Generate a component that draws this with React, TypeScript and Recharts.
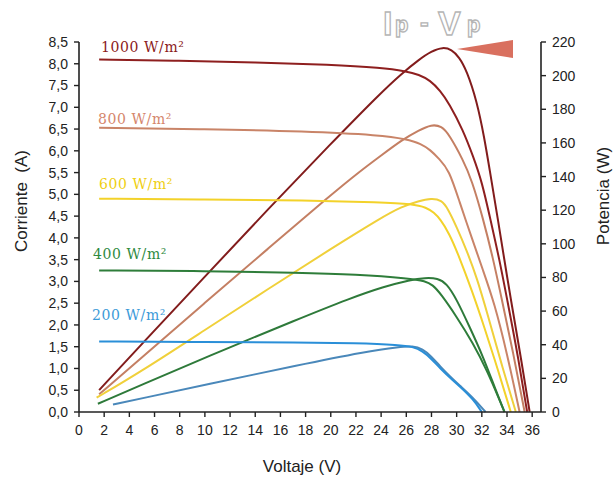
import React from "react";
import { LineChart, Line, XAxis, YAxis } from "recharts";

// ticks
const voltTicks = [0, 2, 4, 6, 8, 10, 12, 14, 16, 18, 20, 22, 24, 26, 28, 30, 32, 34, 36];
const currentTicks = [0, 0.5, 1, 1.5, 2, 2.5, 3, 3.5, 4, 4.5, 5, 5.5, 6, 6.5, 7, 7.5, 8, 8.5];
const powerTicks = [0, 20, 40, 60, 80, 100, 120, 140, 160, 180, 200, 220];

const irradianceLabels = ["1000 W/m²", "800 W/m²", "600 W/m²", "400 W/m²", "200 W/m²"];

// I-V curves (V, A)
const v1000I = [1.6, 8, 14, 20, 24, 26, 27, 27.9, 28.7, 29.4, 30.5, 31.3, 32, 32.7, 33.4, 34, 34.8, 35.6];
const a1000 = [8.1, 8.07, 8.03, 7.98, 7.91, 7.83, 7.75, 7.62, 7.38, 7.09, 6.48, 5.88, 5.3, 4.4, 3.5, 2.6, 1.4, 0];
const v800I = [1.6, 10, 18, 24, 26, 27.2, 27.9, 28.6, 29.4, 30.2, 31.2, 32.1, 33, 34, 35];
const a800 = [6.53, 6.5, 6.45, 6.36, 6.27, 6.16, 6.02, 5.82, 5.56, 4.85, 4.0, 3.25, 2.5, 1.35, 0];
const v600I = [1.6, 10, 18, 24, 26.5, 27.6, 28.2, 28.7, 29.4, 30.2, 31.2, 32.2, 33.3, 34.3];
const a600 = [4.9, 4.88, 4.86, 4.82, 4.78, 4.7, 4.58, 4.43, 4.11, 3.57, 2.8, 1.95, 0.95, 0];
const v400I = [1.6, 10, 17.5, 22, 26.3, 27.5, 28.1, 28.7, 30, 31.3, 32.4, 33.4, 33.8];
const a400 = [3.25, 3.24, 3.2, 3.16, 3.07, 3.01, 2.92, 2.73, 2.19, 1.58, 0.96, 0.28, 0];
const v200I = [1.6, 10, 17.5, 22, 25.5, 26.5, 27.3, 28, 28.7, 29.5, 30.2, 31.3, 32];
const a200 = [1.62, 1.61, 1.6, 1.58, 1.54, 1.5, 1.4, 1.22, 1.0, 0.78, 0.6, 0.3, 0];

// P-V curves (V, W)
const v1000P = [1.6, 5, 10, 15, 20, 24, 25.6, 27, 28, 28.9, 29.6, 30.2, 30.8, 31.6, 32.2, 32.6, 33.2, 33.8, 34.3, 35, 35.8];
const w1000 = [13, 40.5, 80.5, 120.5, 159.5, 190, 201, 209.5, 214.5, 217, 215.5, 211, 203, 185, 163, 145, 118, 90, 67, 37, 0];
const v800P = [1.6, 5, 10, 15, 20, 22.3, 24, 25.7, 27, 28, 28.8, 29.4, 30.5, 31.2, 32.1, 32.9, 33.5, 34.5, 35.4];
const w800 = [10.5, 32.5, 65, 97, 129, 143, 152.5, 162, 167.5, 171, 170, 165, 150, 138, 115, 91, 70, 35, 0];
const v600P = [1.4, 5, 10, 15, 20, 24, 25.6, 27, 28, 28.8, 29.3, 30, 30.8, 31.6, 32.5, 33.5, 34.7];
const w600 = [8.5, 24.4, 48.8, 73, 97, 115.5, 122, 125.5, 127, 126, 121, 110, 96, 80, 57, 30, 0];
const v400P = [1.5, 5, 10, 17.5, 21.5, 24.2, 26.3, 27.5, 28.5, 29.2, 30, 31, 32.1, 33.1, 33.8];
const w400 = [4.9, 16.2, 32.4, 55.5, 67.5, 74.5, 78.5, 79.8, 79.5, 76.5, 67, 51, 33, 13, 0];
const v200P = [2.7, 5, 10, 17.5, 22.8, 25.5, 26.5, 27.3, 28, 28.7, 29.5, 30.2, 31.3, 32.3];
const w200 = [4.5, 8.1, 16.1, 28, 35.9, 38.8, 39.3, 37.5, 33, 27, 21, 16, 8.5, 0];

const lineColors = ["#8E1F1F", "#C98468", "#F3D22A", "#2E7D3A", "#2A8FD8"];
const pvColors = ["#821C1C", "#C47F63", "#F0D03A", "#2E7A3A", "#4A88BA"];
const labelColors = ["#8B1A1A", "#D5866C", "#EFCF10", "#2F8A3F", "#3B9AD8"];

const toRows = (vs: number[], ys: number[]) => vs.map((v, k) => ({ v, y: ys[k] }));

const ivSeries = [
  toRows(v1000I, a1000),
  toRows(v800I, a800),
  toRows(v600I, a600),
  toRows(v400I, a400),
  toRows(v200I, a200),
];
const pvSeries = [
  toRows(v1000P, w1000),
  toRows(v800P, w800),
  toRows(v600P, w600),
  toRows(v400P, w400),
  toRows(v200P, w200),
];

const FONT = "'Liberation Sans', Arial, sans-serif";
const tickStyle = { fill: "#222", fontSize: 14, fontFamily: FONT };
const axisStyle = { stroke: "#222", strokeWidth: 1.6 };

// label anchor positions (px)
const labelPos = [
  { x: 101, y: 52 },
  { x: 98, y: 124 },
  { x: 99, y: 189 },
  { x: 93, y: 259 },
  { x: 92, y: 320 },
];

const App: React.FC = () => {
  return (
    <div style={{ position: "absolute", left: 0, top: 0, width: 615, height: 483, background: "#fff" }}>
      <LineChart width={615} height={483} margin={{ top: 42, right: 0, bottom: 0, left: 0 }}>
        <XAxis
          dataKey="v"
          type="number"
          domain={[0, 36.7]}
          ticks={voltTicks}
          interval={0}
          height={71}
          tick={tickStyle}
          tickSize={5}
          tickMargin={8}
          axisLine={axisStyle}
          tickLine={{ stroke: "#222", strokeWidth: 1.4 }}
          allowDataOverflow
        />
        <YAxis
          yAxisId="a"
          orientation="left"
          width={79}
          domain={[0, 8.5]}
          ticks={currentTicks}
          interval={0}
          tickFormatter={(v: number) => v.toFixed(1).replace(".", ",")}
          tick={tickStyle}
          tickSize={5}
          tickMargin={6}
          axisLine={axisStyle}
          tickLine={{ stroke: "#222", strokeWidth: 1.4 }}
        />
        <YAxis
          yAxisId="p"
          orientation="right"
          width={74}
          domain={[0, 220]}
          ticks={powerTicks}
          interval={0}
          tick={tickStyle}
          tickSize={5}
          tickMargin={6}
          axisLine={axisStyle}
          tickLine={{ stroke: "#222", strokeWidth: 1.4 }}
        />
        {pvSeries.map((d, k) => (
          <Line
            key={`pv-${k}`}
            yAxisId="p"
            data={d}
            dataKey="y"
            type="basis"
            stroke={pvColors[k]}
            strokeWidth={2}
            dot={false}
            activeDot={false}
            isAnimationActive={false}
          />
        ))}
        {ivSeries.map((d, k) => (
          <Line
            key={`iv-${k}`}
            yAxisId="a"
            data={d}
            dataKey="y"
            type="basis"
            stroke={lineColors[k]}
            strokeWidth={2}
            dot={false}
            activeDot={false}
            isAnimationActive={false}
          />
        ))}
      </LineChart>

      <svg width={615} height={483} style={{ position: "absolute", left: 0, top: 0, pointerEvents: "none" }}>
        {irradianceLabels.map((t, k) => (
          <text
            key={t}
            x={labelPos[k].x}
            y={labelPos[k].y}
            fill={labelColors[k]}
            fontSize={14}
            letterSpacing={0.6}
            fontFamily="'DejaVu Serif', serif"
          >
            {t}
          </text>
        ))}

        <text
          transform="translate(27 201) rotate(-90)"
          textAnchor="middle"
          fontSize={17}
          fontFamily={FONT}
          fill="#222"
          xmlSpace="preserve"
        >
          Corriente  (A)
        </text>
        <text
          transform="translate(609 196) rotate(-90)"
          textAnchor="middle"
          fontSize={17}
          fontFamily={FONT}
          fill="#222"
        >
          Potencia (W)
        </text>
        <text x={302} y={472} textAnchor="middle" fontSize={17} fontFamily={FONT} fill="#222">
          Voltaje (V)
        </text>

        <g fill="#fff" stroke="#b5b5b5" strokeWidth={1.3} fontFamily={FONT} fontWeight="bold">
          <text x={383} y={35} fontSize={34}>I</text>
          <text x={395} y={32} fontSize={22}>p</text>
          <text x={420} y={31} fontSize={26}>-</text>
          <text x={438} y={35} fontSize={34}>V</text>
          <text x={467} y={32} fontSize={22}>p</text>
        </g>
        <polygon points="457,49 513,40 513,58" fill="#D9705F" />
      </svg>
    </div>
  );
};

export default App;
